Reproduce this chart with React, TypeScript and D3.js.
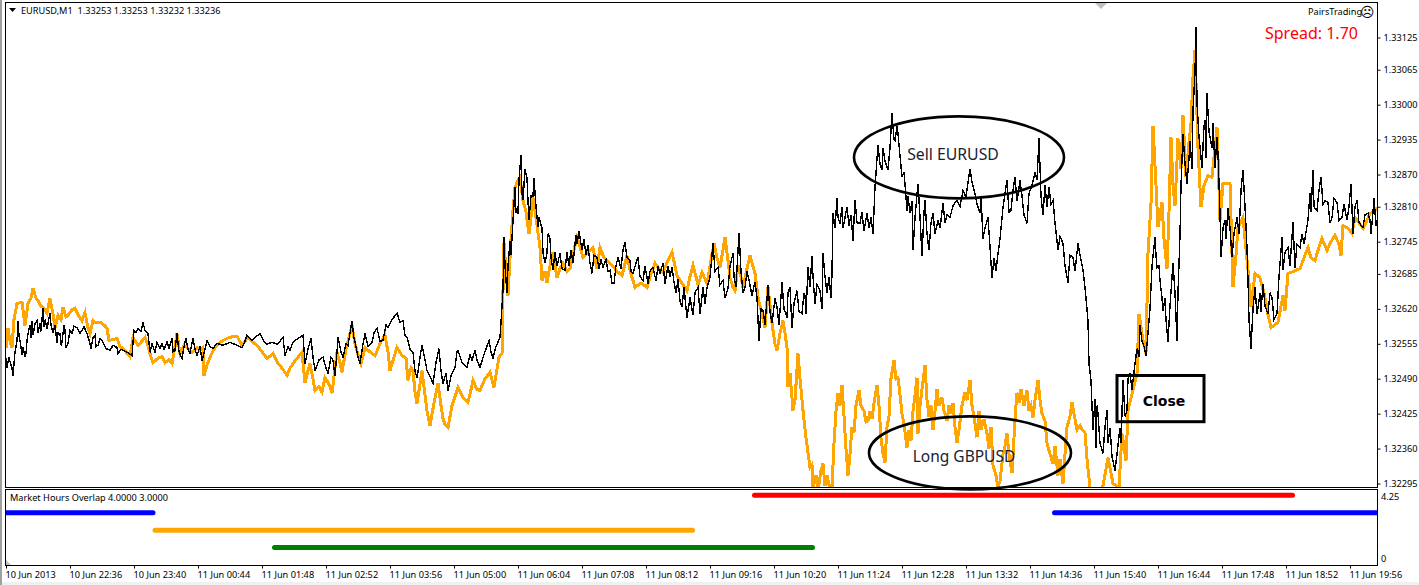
import React, { useEffect, useRef } from 'react';
import * as d3 from 'd3';

const W = 1419;
const H = 585;

// bars are minutes from the first visible bar, values are points above 1.30000
const eurusd: [number, number][] = [
  [0,2528],[1,2511],[3,2530],[4,2522],[6,2510],[7,2496],[9,2540],[11,2560],[12,2598],[13,2570],[14,2561],[16,2535],[17,2548],[19,2530],[20,2537],[21,2560],[22,2574],[24,2590],[25,2566],[26,2598],[27,2571],[29,2592],[31,2598],[32,2576],[34,2593],[35,2578],[37,2621],[38,2586],[39,2600],[41,2583],[44,2612],[45,2590],[47,2576],[49,2590],[51,2556],[52,2575],[54,2574],[55,2552],[56,2558],[58,2590],[59,2580],[60,2548],[62,2556],[64,2580],[66,2574],[68,2588],[71,2585],[74,2574],[76,2580],[78,2587],[81,2574],[83,2562],[85,2546],[87,2566],[89,2571],[90,2550],[92,2552],[94,2565],[97,2558],[100,2546],[104,2543],[107,2552],[111,2548],[112,2537],[115,2545],[119,2541],[122,2538],[126,2533],
  [128,2580],[130,2576],[132,2584],[135,2578],[137,2595],[139,2580],[142,2574],[144,2539],[146,2555],[149,2540],[151,2558],[154,2546],[156,2556],[158,2544],[161,2559],[163,2546],[166,2565],[167,2540],[169,2543],[171,2574],[173,2540],[176,2528],[178,2550],[180,2565],[182,2545],[184,2537],[187,2565],[189,2545],[191,2533],[194,2550],[196,2524],[199,2545],[201,2561],[204,2550],[207,2546],[211,2556],[217,2552],[224,2558],[230,2553],[236,2548],[239,2560],[241,2571],[246,2562],[254,2574],[258,2560],[261,2554],[266,2558],[271,2554],[274,2560],[277,2567],[279,2533],[282,2550],[284,2543],[287,2558],[292,2565],[297,2571],[299,2518],[302,2545],[305,2565],[307,2530],[309,2505],[313,2525],[317,2530],[320,2510],[322,2500],[325,2530],[327,2524],[329,2496],[331,2540],[332,2567],[335,2540],[337,2530],[340,2555],[342,2552],[344,2575],[346,2598],[348,2565],[349,2558],[352,2530],[354,2518],[357,2555],[359,2574],[362,2550],[366,2558],[368,2575],[371,2584],[374,2560],[377,2561],[380,2590],[382,2585],[386,2600],[391,2612],[394,2595],[397,2598],[399,2570],[401,2567],[404,2545],[407,2539],[409,2505],[411,2491],[414,2530],[416,2552],[419,2525],[421,2505],[424,2495],[427,2481],[430,2520],[433,2546],[435,2505],[437,2481],[440,2500],[442,2468],[445,2495],[449,2511],[451,2540],[452,2543],[456,2520],[461,2511],[464,2535],[466,2524],[469,2543],[471,2525],[474,2511],[478,2535],[483,2561],[485,2540],[487,2528],[490,2550],[494,2567],
  [497,2654],[498,2753],[499,2700],[501,2649],[502,2700],[504,2747],[505,2720],[507,2785],[509,2846],[510,2800],[512,2798],[513,2860],[515,2906],[516,2835],[517,2822],[519,2880],[521,2863],[522,2820],[523,2785],[525,2830],[527,2830],[528,2863],[530,2810],[532,2772],[533,2790],[536,2770],[537,2725],[539,2705],[541,2725],[542,2760],[544,2751],[545,2715],[547,2692],[549,2725],[551,2700],[554,2723],[556,2695],[559,2692],[561,2725],[563,2700],[565,2730],[567,2705],[570,2757],[571,2740],[573,2765],[576,2729],[578,2750],[580,2720],[582,2738],[584,2705],[586,2686],[588,2720],[591,2716],[593,2695],[595,2712],[597,2697],[600,2712],[602,2690],[604,2692],[606,2668],[608,2667],[610,2700],[612,2716],[615,2695],[617,2730],[619,2744],[621,2715],[624,2710],[625,2690],[627,2686],[630,2705],[632,2716],[634,2680],[637,2673],[639,2700],[642,2667],[644,2690],[647,2697],[650,2672],[652,2700],[654,2686],[657,2705],[659,2667],[662,2700],[664,2680],[666,2697],[668,2670],[670,2649],[672,2675],[674,2635],[676,2623],[678,2660],[681,2604],[684,2641],[687,2608],[689,2650],[692,2660],[694,2611],[697,2660],[699,2630],[701,2660],[704,2678],[707,2742],[709,2690],[712,2697],[714,2665],[717,2673],[719,2640],[722,2658],[724,2700],[727,2723],[728,2680],[730,2660],[733,2762],[735,2690],[737,2650],[739,2660],[741,2690],[743,2673],[746,2645],[749,2670],[751,2641],[753,2561],[755,2620],[757,2617],[759,2590],[762,2664],[764,2615],[766,2593],[769,2640],[771,2623],[773,2590],[776,2669],[778,2620],[781,2604],[782,2650],[784,2660],[786,2585],[788,2630],[791,2654],[793,2615],[796,2611],[798,2650],[799,2645],[800,2610],[802,2697],[804,2660],[806,2719],[807,2680],[809,2630],[811,2665],[814,2654],[816,2620],[817,2723],[819,2680],[821,2649],[823,2680],[825,2640],[826,2686],
  [827,2799],[829,2770],[831,2827],[832,2790],[834,2779],[836,2810],[837,2770],[839,2790],[841,2809],[843,2775],[845,2795],[847,2747],[849,2822],[851,2780],[854,2779],[856,2800],[858,2765],[861,2798],[863,2770],[865,2790],[867,2760],[869,2846],[871,2900],[872,2924],[874,2890],[876,2878],[877,2920],[879,2895],[882,2878],[884,2920],[886,2984],[888,2935],[889,2933],[891,2960],[892,2946],[894,2905],[896,2865],[898,2875],[901,2803],[902,2830],[904,2798],[906,2820],[907,2729],[909,2790],[912,2853],[914,2790],[916,2719],[918,2800],[919,2822],[921,2760],[923,2729],[925,2780],[927,2798],[929,2760],[932,2785],[934,2770],[937,2816],[939,2780],[941,2795],[944,2790],[947,2812],[951,2822],[954,2810],[957,2840],[960,2828],[964,2881],[966,2855],[969,2835],[971,2815],[974,2798],[975,2830],[977,2751],[979,2770],[982,2790],[984,2735],[986,2678],[988,2715],[990,2690],[992,2723],[994,2750],[997,2809],[999,2835],[1001,2859],[1003,2800],[1005,2803],[1007,2840],[1009,2865],[1011,2820],[1014,2859],[1016,2830],[1018,2795],[1021,2779],[1023,2835],[1026,2850],[1029,2874],[1031,2860],[1033,2937],[1035,2830],[1037,2794],[1039,2850],[1041,2810],[1043,2846],[1045,2815],[1047,2822],[1049,2780],[1052,2729],[1054,2755],[1057,2742],[1059,2700],[1062,2669],[1064,2720],[1067,2716],[1069,2690],[1072,2742],[1074,2720],[1077,2692],[1079,2660],[1082,2598],[1083,2518],[1085,2487],[1087,2394],[1089,2453],
  [1090,2362],[1091,2440],[1092,2425],[1094,2370],[1097,2351],[1099,2400],[1101,2431],[1102,2370],[1104,2399],[1106,2345],[1109,2319],[1111,2350],[1114,2399],[1115,2370],[1117,2487],[1119,2420],[1121,2431],[1122,2490],[1124,2500],[1126,2470],[1129,2518],[1131,2546],[1133,2530],[1134,2589],[1136,2560],[1138,2550],[1140,2533],[1142,2576],[1144,2620],[1146,2700],[1149,2753],[1150,2720],[1151,2697],[1153,2700],[1154,2673],[1156,2640],[1157,2617],[1159,2640],[1160,2600],[1162,2558],[1164,2625],[1167,2705],[1169,2650],[1171,2561],[1172,2650],[1174,2757],[1175,2850],[1177,2946],[1179,2890],[1181,2853],[1183,2900],[1184,2933],[1186,2880],[1187,2989],[1189,3060],[1190,3144],[1191,3002],[1193,2940],[1196,2883],[1198,2960],[1199,2971],[1200,2900],[1201,3021],[1203,2950],[1206,2920],[1207,2965],[1209,2883],[1211,2940],[1212,2909],[1214,2798],[1215,2716],[1217,2770],[1219,2785],[1220,2750],[1222,2807],[1224,2770],[1226,2716],[1228,2760],[1231,2790],[1233,2760],[1235,2840],[1237,2878],[1239,2810],[1241,2734],[1242,2673],[1243,2600],[1245,2546],[1247,2620],[1249,2660],[1251,2610],[1254,2649],[1255,2615],[1257,2667],[1259,2625],[1262,2611],[1264,2650],[1266,2641],[1268,2600],[1271,2611],[1273,2680],[1276,2753],[1277,2692],[1279,2725],[1282,2734],[1284,2700],[1287,2781],[1289,2697],[1291,2740],[1294,2734],[1296,2760],[1298,2740],[1302,2785],[1304,2835],[1305,2800],[1307,2878],[1308,2810],[1311,2803],[1313,2840],[1315,2865],[1317,2815],[1319,2822],[1322,2818],[1324,2780],[1326,2790],[1328,2825],[1331,2818],[1333,2785],[1336,2790],[1338,2815],[1341,2785],[1343,2810],[1345,2853],[1347,2760],[1349,2810],[1351,2822],[1353,2780],[1357,2772],[1359,2795],[1362,2798],[1364,2785],[1365,2760],[1367,2800],[1368,2827],[1370,2775],[1371,2785],
];

const gbpusd: [number, number][] = [
  [0,2548],[2,2584],[4,2560],[6,2548],[8,2600],[11,2630],[16,2632],[19,2589],[22,2630],[25,2640],[27,2658],[30,2640],[32,2636],[35,2625],[37,2623],[41,2612],[44,2639],[47,2610],[49,2584],[52,2608],[55,2600],[57,2623],[60,2605],[62,2608],[66,2618],[69,2621],[73,2606],[76,2598],[79,2613],[82,2585],[84,2574],[87,2598],[89,2595],[94,2595],[98,2590],[101,2584],[103,2561],[107,2563],[111,2565],[114,2550],[117,2546],[121,2538],[124,2531],[127,2567],[130,2558],[132,2552],[136,2560],[139,2567],[142,2552],[145,2530],[147,2520],[152,2528],[156,2531],[159,2520],[163,2525],[166,2518],[169,2550],[171,2574],[174,2537],[178,2552],[181,2548],[186,2539],[191,2548],[194,2542],[197,2548],[198,2496],[201,2515],[204,2530],[208,2545],[211,2552],[216,2560],[221,2565],[226,2568],[231,2569],[236,2552],[239,2560],[242,2567],[247,2558],[251,2552],[256,2540],[261,2528],[264,2532],[267,2537],[272,2518],[276,2510],[281,2496],[284,2510],[287,2518],[291,2528],[296,2539],[299,2483],[302,2505],[304,2518],[307,2490],[309,2468],[313,2475],[316,2465],[319,2492],[323,2480],[326,2463],[329,2510],[331,2539],[334,2520],[336,2502],[340,2545],[346,2589],[349,2555],[352,2535],[355,2518],[359,2548],[364,2540],[369,2533],[374,2555],[379,2571],[382,2540],[384,2505],[388,2530],[391,2548],[396,2533],[400,2528],[402,2487],[405,2510],[407,2505],[409,2465],[411,2444],[414,2480],[416,2505],[419,2460],[421,2430],[424,2403],[428,2445],[432,2481],[435,2440],[437,2416],[439,2405],[442,2399],[446,2440],[452,2474],[457,2455],[462,2446],[465,2470],[467,2487],[471,2470],[474,2468],[479,2490],[484,2502],[488,2474],[493,2530],[496,2537],
  [497,2654],[498,2742],[500,2690],[502,2645],[505,2750],[507,2803],[509,2846],[512,2860],[514,2865],[517,2822],[520,2800],[523,2760],[525,2790],[527,2827],[530,2790],[534,2734],[536,2673],[539,2690],[541,2669],[544,2700],[546,2725],[549,2700],[551,2678],[554,2695],[557,2705],[561,2690],[564,2695],[568,2730],[571,2753],[574,2735],[577,2716],[582,2725],[587,2734],[591,2695],[594,2734],[598,2715],[601,2710],[606,2701],[611,2690],[616,2682],[621,2719],[625,2685],[629,2660],[635,2668],[641,2660],[645,2685],[649,2705],[653,2695],[657,2688],[662,2710],[666,2725],[669,2700],[671,2682],[676,2668],[681,2654],[684,2680],[687,2701],[690,2680],[692,2664],[696,2688],[701,2667],[705,2710],[708,2742],[711,2715],[714,2697],[717,2730],[719,2753],[722,2710],[724,2678],[727,2660],[729,2654],[732,2701],[735,2680],[737,2660],[741,2695],[744,2719],[749,2686],[752,2641],[756,2610],[759,2585],[762,2660],[765,2610],[767,2580],[769,2555],[771,2543],[774,2575],[777,2598],[779,2575],[781,2548],
  [782,2474],[784,2500],[787,2431],[789,2450],[792,2537],[794,2490],[797,2431],[800,2380],[804,2325],[806,2330],[807,2288],[810,2310],[812,2280],[815,2320],[817,2332],[819,2290],[821,2310],[824,2285],[826,2288],[828,2370],[830,2430],[832,2463],[834,2440],[836,2478],[838,2420],[840,2360],[842,2310],[844,2350],[846,2400],[848,2390],[850,2440],[853,2468],[855,2440],[858,2430],[860,2410],[862,2412],[864,2430],[866,2415],[868,2445],[871,2478],[873,2440],[875,2380],[877,2350],[879,2334],[881,2400],[883,2420],[885,2490],[888,2524],[890,2490],[892,2492],[894,2460],[896,2425],[898,2405],[901,2362],[903,2395],[905,2375],[907,2430],[909,2460],[911,2492],[912,2388],[914,2440],[916,2470],[919,2515],[921,2450],[923,2420],[925,2440],[927,2394],[929,2430],[931,2470],[933,2440],[936,2455],[938,2430],[941,2412],[943,2440],[945,2425],[947,2444],[949,2400],[951,2370],[953,2395],[956,2440],[959,2465],[961,2450],[964,2487],[966,2440],[968,2420],[971,2381],[973,2430],[975,2395],[978,2415],[981,2388],[983,2360],[985,2400],[987,2330],[990,2310],[992,2288],[994,2300],[997,2350],[999,2365],[1001,2388],[1003,2350],[1006,2314],[1008,2380],[1010,2440],[1011,2464],[1013,2445],[1015,2470],[1018,2440],[1021,2468],[1023,2430],[1025,2440],[1027,2418],[1029,2450],[1032,2487],[1034,2450],[1036,2425],[1039,2412],[1041,2370],[1044,2350],[1047,2332],[1049,2365],[1052,2310],[1054,2340],[1057,2295],[1059,2350],[1061,2400],[1064,2420],[1066,2446],[1068,2425],[1071,2395],[1074,2403],[1076,2395],[1079,2390],[1081,2340],[1084,2288],[1095,2270],[1102,2343],[1107,2295],[1113,2288],[1116,2388],[1120,2338],[1122,2431],[1131,2500],[1133,2611],[1137,2561],[1140,2537],[1142,2723],[1145,2816],[1147,2961],[1150,2850],[1152,2772],[1156,2818],[1158,2750],[1161,2695],[1163,2800],[1165,2939],[1167,2850],[1169,2812],[1172,2937],[1175,2880],[1177,2980],[1180,2865],[1183,2930],[1185,2965],[1187,3050],[1189,3101],[1192,2920],[1195,2809],[1198,2850],[1202,2868],[1206,2865],[1209,2920],[1211,2958],[1214,2785],[1217,2853],[1224,2853],[1227,2660],[1230,2720],[1232,2772],[1237,2790],[1242,2692],[1245,2623],[1249,2686],[1254,2678],[1259,2641],[1262,2610],[1265,2585],[1272,2595],[1277,2645],[1279,2617],[1282,2686],[1288,2690],[1294,2695],[1298,2715],[1302,2734],[1305,2715],[1309,2710],[1313,2735],[1316,2751],[1321,2729],[1325,2745],[1329,2757],[1333,2740],[1335,2719],[1337,2775],[1342,2770],[1346,2760],[1349,2790],[1353,2780],[1357,2770],[1361,2785],[1364,2798],[1368,2800],[1371,2809],
];

const priceLabels = [1.33125, 1.33065, 1.33, 1.32935, 1.3287, 1.3281, 1.32745, 1.32685, 1.3262, 1.32555, 1.3249, 1.32425, 1.3236, 1.32295];
const timeLabels = ['10 Jun 2013', '10 Jun 22:36', '10 Jun 23:40', '11 Jun 00:44', '11 Jun 01:48', '11 Jun 02:52', '11 Jun 03:56', '11 Jun 05:00', '11 Jun 06:04', '11 Jun 07:08', '11 Jun 08:12', '11 Jun 09:16', '11 Jun 10:20', '11 Jun 11:24', '11 Jun 12:28', '11 Jun 13:32', '11 Jun 14:36', '11 Jun 15:40', '11 Jun 16:44', '11 Jun 17:48', '11 Jun 18:52', '11 Jun 19:56'];

// level, first bar, last bar
const overlapSessions: [number, number, number, string][] = [
  [3, 0, 147, '#0000ff'],
  [2, 149, 686.5, '#ffa500'],
  [1, 268.5, 806.5, '#008000'],
  [4, 748.5, 1286.5, '#ff0000'],
  [3, 1048.5, 1371, '#0000ff'],
];

const BAR_STEP = 64;
const FONT = '"Noto Sans", sans-serif';
const FONT_SIZE = 9.2;

const App = () => {
  const ref = useRef<SVGSVGElement>(null);

  useEffect(() => {
    const svg = d3.select(ref.current);
    svg.selectAll('*').remove();

    const x = d3.scaleLinear().domain([0, 1371]).range([6, 1377]);
    const y = d3.scaleLinear().domain([1.32295, 1.33125]).range([483.5, 37.5]);
    const yPts = (pts: number) => y(1.3 + pts / 100000);
    const ySub = d3.scaleLinear().domain([0, 4.25]).range([565, 491]);

    svg.append('rect').attr('width', W).attr('height', H).attr('fill', '#fff');
    svg.append('rect').attr('y', 582).attr('width', W).attr('height', 3).attr('fill', '#f0f0f0');
    svg.append('rect').attr('width', 2).attr('height', H).attr('fill', '#a0a0a0');

    svg.append('clipPath').attr('id', 'main-clip').append('rect')
      .attr('x', 6).attr('y', 3).attr('width', 1371).attr('height', 484);
    svg.append('clipPath').attr('id', 'sub-clip').append('rect')
      .attr('x', 6).attr('y', 490).attr('width', 1371).attr('height', 75);

    const line = d3.line<[number, number]>().x(d => x(d[0])).y(d => yPts(d[1]));
    const plot = svg.append('g').attr('clip-path', 'url(#main-clip)');
    plot.append('path').attr('d', line(gbpusd)).attr('fill', 'none').attr('stroke', '#ffa500')
      .attr('stroke-width', 3).attr('shape-rendering', 'crispEdges');
    plot.append('path').attr('d', line(eurusd)).attr('fill', 'none').attr('stroke', '#000')
      .attr('stroke-width', 1.4).attr('shape-rendering', 'crispEdges');

    // panel sessions
    svg.append('g').attr('clip-path', 'url(#sub-clip)')
      .selectAll('.session').data(overlapSessions).enter().append('line')
      .attr('class', 'session')
      .attr('x1', d => x(d[1])).attr('x2', d => x(d[2]))
      .attr('y1', d => ySub(d[0])).attr('y2', d => ySub(d[0]))
      .attr('stroke', d => d[3]).attr('stroke-width', 5).attr('stroke-linecap', 'round');

    // frames
    const frame = (fy: number, fh: number) => svg.append('rect')
      .attr('x', 5.5).attr('y', fy).attr('width', 1372).attr('height', fh)
      .attr('fill', 'none').attr('stroke', '#000').attr('stroke-width', 1);
    frame(2.5, 485);
    frame(489.5, 76);

    const priceAxis = d3.axisRight(y).tickValues(priceLabels).tickFormat(d3.format('.5f') as any)
      .tickSize(3).tickPadding(3);
    const gp = svg.append('g').attr('transform', 'translate(1377.5,0)').call(priceAxis);
    gp.select('.domain').remove();
    gp.selectAll('text').attr('font-family', FONT).attr('font-size', FONT_SIZE).attr('fill', '#000');

    const timeAxis = d3.axisBottom(x)
      .tickValues(timeLabels.map((_, i) => i * BAR_STEP))
      .tickFormat((_, i) => timeLabels[i])
      .tickSize(3).tickPadding(3);
    const gt = svg.append('g').attr('transform', 'translate(0,565.5)').call(timeAxis);
    gt.select('.domain').remove();
    gt.selectAll('text').attr('font-family', FONT).attr('font-size', FONT_SIZE).attr('fill', '#000')
      .attr('text-anchor', 'start').attr('dx', -1);

    const label = (tx: number, ty: number, s: string, size = FONT_SIZE, fill = '#000') => svg.append('text')
      .attr('x', tx).attr('y', ty).attr('font-family', FONT).attr('font-size', size).attr('fill', fill).text(s);

    label(1381, 500, ySub.domain()[1].toFixed(2));
    label(1381, 562, String(ySub.domain()[0]));
    label(21, 14, 'EURUSD,M1  1.33253 1.33253 1.33232 1.33236').attr('style', 'white-space: pre');
    label(10, 501, 'Market Hours Overlap 4.0000 3.0000');
    label(1308, 15, 'PairsTrading');
    svg.append('text').attr('x', 1360).attr('y', 17).attr('font-family', '"DejaVu Sans"').attr('font-size', 14).text('\u2639');
    label(1265, 39, 'Spread: 1.70', 16, '#ff0000');

    svg.append('path').attr('d', d3.line()([[9, 8], [16, 8], [12.5, 12]])!).attr('fill', '#000');
    svg.append('path').attr('d', d3.line()([[1095, 3], [1107, 3], [1101, 9]])!).attr('fill', '#c0c0c0');
    svg.append('path').attr('d', d3.line()([[6, 560], [6, 565], [11, 565]])!).attr('fill', '#c0c0c0');

    // trade annotations
    const ellipse = (bar: number, pts: number, rx: number, ry: number) => svg.append('ellipse')
      .attr('cx', x(bar)).attr('cy', yPts(pts)).attr('rx', rx).attr('ry', ry)
      .attr('fill', 'none').attr('stroke', '#000').attr('stroke-width', 2.6);
    ellipse(953, 2902, 105, 41);
    ellipse(964, 2352, 101, 36.5);

    svg.append('rect').attr('x', x(1111)).attr('y', yPts(2496))
      .attr('width', x(1198) - x(1111)).attr('height', yPts(2410) - yPts(2496))
      .attr('fill', 'none').attr('stroke', '#000').attr('stroke-width', 3);

    const note = (bar: number, pts: number, s: string, size: number) => svg.append('text')
      .attr('x', x(bar)).attr('y', yPts(pts)).attr('text-anchor', 'middle').attr('font-family', FONT)
      .attr('font-size', size).attr('fill', '#1a2233').text(s);
    note(947, 2897, 'Sell EURUSD', 15.8);
    note(958, 2335, 'Long GBPUSD', 15.5);
    note(1158, 2440, 'Close', 14).attr('font-weight', 'bold').attr('font-family', '"DejaVu Sans"').attr('fill', '#000');
  }, []);

  return (
    <svg ref={ref} width={W} height={H} viewBox={`0 0 ${W} ${H}`}
      style={{ position: 'absolute', left: 0, top: 0, display: 'block' }} />
  );
};

export default App;
